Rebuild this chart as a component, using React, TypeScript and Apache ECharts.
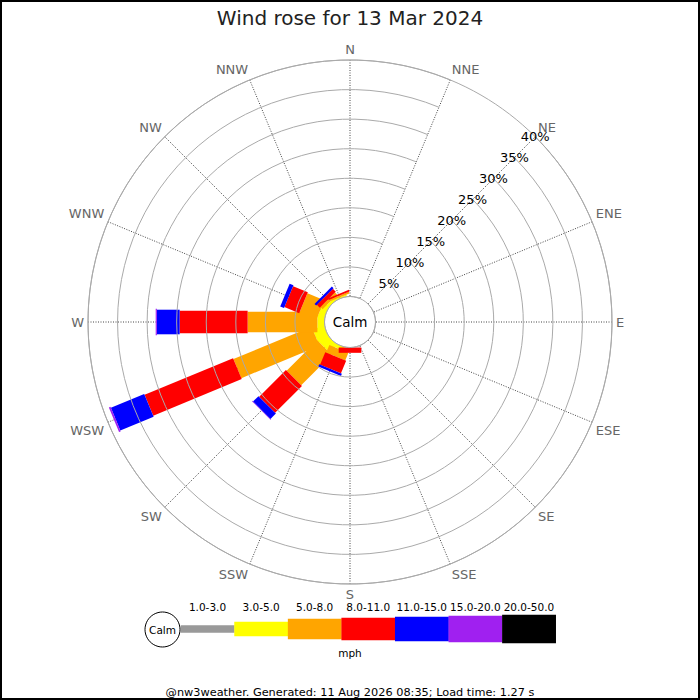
import React, { useEffect, useRef } from "react";
import * as echarts from "echarts";

// ---------- data ----------
const TITLE = "Wind rose for 13 Mar 2024";
const FOOTER = "@nw3weather. Generated: 11 Aug 2026 08:35; Load time: 1.27 s";
const CALM_LABEL = "Calm";
const SPEED_UNIT = "mph";

const DIRECTIONS = ["N", "NNE", "NE", "ENE", "E", "ESE", "SE", "SSE", "S", "SSW", "SW", "WSW", "W", "WNW", "NW", "NNW"];
const SPEED_BANDS = ["1.0-3.0", "3.0-5.0", "5.0-8.0", "8.0-11.0", "11.0-15.0", "15.0-20.0", "20.0-50.0"];

// percent of time per direction (compass order, N..NNW) for each speed band
const PCT_1_3 = [0, 0, 0, 0, 0, 0, 0, 0, 0, 0, 0, 0, 0, 0, 0, 0];
const PCT_3_5 = [0, 0, 0, 0, 0, 0, 0, 0, 0, 0.6, 1.8, 2.0, 1.2, 1.1, 0.5, 0.2];
const PCT_5_8 = [0, 0, 0, 0, 0, 0, 0, 0, 0, 1.4, 7.3, 14.3, 11.8, 3.1, 0.5, 0.3];
const PCT_8_11 = [0, 0, 0, 0, 0, 0, 0, 0, 0.9, 2.3, 6.4, 16.2, 11.5, 2.7, 0.7, 0.3];
const PCT_11_15 = [0, 0, 0, 0, 0, 0, 0, 0, 0, 0.4, 1.3, 6.1, 3.85, 0.7, 0.4, 0];
const PCT_15_20 = [0, 0, 0, 0, 0, 0, 0, 0, 0, 0, 0.1, 0.3, 0.2, 0, 0, 0];
const PCT_20_50 = [0, 0, 0, 0, 0, 0, 0, 0, 0, 0, 0, 0, 0, 0, 0, 0];
const BAND_VALUES = [PCT_1_3, PCT_3_5, PCT_5_8, PCT_8_11, PCT_11_15, PCT_15_20, PCT_20_50];

const RADIUS_MAX = 40;
const RADIUS_STEP = 5;

// ---------- styles ----------
const FONT = "DejaVu Sans";
const BAND_COLORS = ["#999999", "#ffff00", "#ffa500", "#ff0000", "#0000ff", "#a020f0", "#000000"];
const BAND_WIDTHS = [7.7, 14.3, 20.6, 22.6, 24.6, 26.6, 28.3];
const CENTER: [number, number] = [350, 322];
const INNER_R = 25.5;
const OUTER_R = 262;
const LEGEND_X0 = 180.7;
const LEGEND_SEG_W = 53.57;
const LEGEND_CY = 629;

export default function App() {
  const ref = useRef<HTMLDivElement>(null);

  useEffect(() => {
    document.body.style.margin = "0";
    if (!ref.current) return;
    const chart = echarts.init(ref.current, undefined, { renderer: "svg" });

    // angle axis starts at NE so the radius axis labels lie along the NE spoke
    const startIdx = DIRECTIONS.indexOf("NE");
    const axisDirs = [...DIRECTIONS.slice(startIdx), ...DIRECTIONS.slice(0, startIdx)];

    const series = SPEED_BANDS.map((band, b) => {
      const half = BAND_WIDTHS[b] / 2;
      const color = BAND_COLORS[b];
      const data = DIRECTIONS.map((d, i) => {
        let start = 0;
        for (let k = 0; k < b; k++) start += BAND_VALUES[k][i];
        const end = start + BAND_VALUES[b][i];
        return [end, axisDirs.indexOf(d), start];
      });
      return {
        type: "custom",
        name: band,
        coordinateSystem: "polar",
        encode: { radius: 0, angle: 1 },
        data,
        silent: true,
        z: 3,
        renderItem: (params: any, api: any) => {
          const start = api.value(2);
          const end = api.value(0);
          if (!(end > start)) return null;
          const ang = api.value(1);
          const cs = params.coordSys;
          const a = api.coord([start, ang]);
          const e = api.coord([end, ang]);
          const far = api.coord([RADIUS_MAX, ang]);
          let ux = far[0] - cs.cx;
          let uy = far[1] - cs.cy;
          const len = Math.hypot(ux, uy) || 1;
          ux /= len;
          uy /= len;
          const nx = -uy * half;
          const ny = ux * half;
          return {
            type: "polygon",
            shape: {
              points: [
                [a[0] + nx, a[1] + ny],
                [e[0] + nx, e[1] + ny],
                [e[0] - nx, e[1] - ny],
                [a[0] - nx, a[1] - ny],
              ],
            },
            style: { fill: color },
          };
        },
      };
    });

    const graphic: any[] = [
      {
        type: "rect",
        shape: { x: 1, y: 1, width: 698, height: 698 },
        style: { fill: "none", stroke: "#000", lineWidth: 2 },
        silent: true,
      },
      {
        type: "text",
        x: CENTER[0],
        y: CENTER[1],
        z: 10,
        style: { text: CALM_LABEL, fontSize: 13.5, fontFamily: FONT, fill: "#000", align: "center", verticalAlign: "middle" },
      },
      // legend: calm circle
      {
        type: "circle",
        shape: { cx: 162.5, cy: LEGEND_CY + 0.5, r: 17.5 },
        style: { fill: "#fff", stroke: "#000", lineWidth: 1 },
        z: 5,
      },
      {
        type: "text",
        x: 162.5,
        y: LEGEND_CY + 0.5,
        z: 6,
        style: { text: CALM_LABEL, fontSize: 10.5, fontFamily: FONT, fill: "#000", align: "center", verticalAlign: "middle" },
      },
      {
        type: "text",
        x: 350,
        y: 653,
        style: { text: SPEED_UNIT, fontSize: 10.5, fontFamily: FONT, fill: "#000", align: "center", verticalAlign: "middle" },
      },
      {
        type: "text",
        x: 350,
        y: 692,
        style: { text: FOOTER, fontSize: 11.3, fontFamily: FONT, fill: "#000", align: "center", verticalAlign: "middle" },
      },
    ];
    SPEED_BANDS.forEach((band, b) => {
      const x = LEGEND_X0 + b * LEGEND_SEG_W;
      const h = BAND_WIDTHS[b];
      graphic.push({
        type: "rect",
        shape: { x, y: LEGEND_CY - h / 2, width: LEGEND_SEG_W + 0.3, height: h },
        style: { fill: BAND_COLORS[b] },
        z: 4,
      });
      graphic.push({
        type: "text",
        x: x + LEGEND_SEG_W / 2,
        y: 607,
        style: { text: band, fontSize: 10.5, fontFamily: FONT, fill: "#000", align: "center", verticalAlign: "middle" },
      });
    });

    chart.setOption({
      animation: false,
      backgroundColor: "#fff",
      textStyle: { fontFamily: FONT },
      title: {
        text: TITLE,
        left: "center",
        top: 3,
        textStyle: { fontSize: 20, fontWeight: "normal", color: "#222", fontFamily: FONT },
      },
      polar: { center: CENTER, radius: [INNER_R, OUTER_R] },
      angleAxis: {
        type: "category",
        data: axisDirs,
        startAngle: 45,
        clockwise: true,
        boundaryGap: false,
        axisLine: { show: true, lineStyle: { color: "#aaaaaa", width: 1 } },
        axisTick: { show: false },
        axisLabel: { interval: 0, color: "#666666", fontSize: 13, margin: 4, fontFamily: FONT },
        splitLine: { show: true, interval: 0, lineStyle: { color: "#444444", width: 1, type: [1, 1.5] } },
        z: 2,
      },
      radiusAxis: {
        type: "value",
        min: 0,
        max: RADIUS_MAX,
        interval: RADIUS_STEP,
        axisLine: { show: false },
        axisTick: { show: false },
        axisLabel: {
          formatter: (v: number) => (v === 0 ? "" : v + "%"),
          margin: 0,
          color: "#000",
          fontSize: 13,
          align: "center",
          verticalAlign: "middle",
          fontFamily: FONT,
        },
        splitLine: { show: true, lineStyle: { color: "#aaaaaa", width: 1 } },
        z: 4,
      },
      series,
      graphic,
    });

    return () => chart.dispose();
  }, []);

  return <div ref={ref} style={{ width: 700, height: 700 }} />;
}
